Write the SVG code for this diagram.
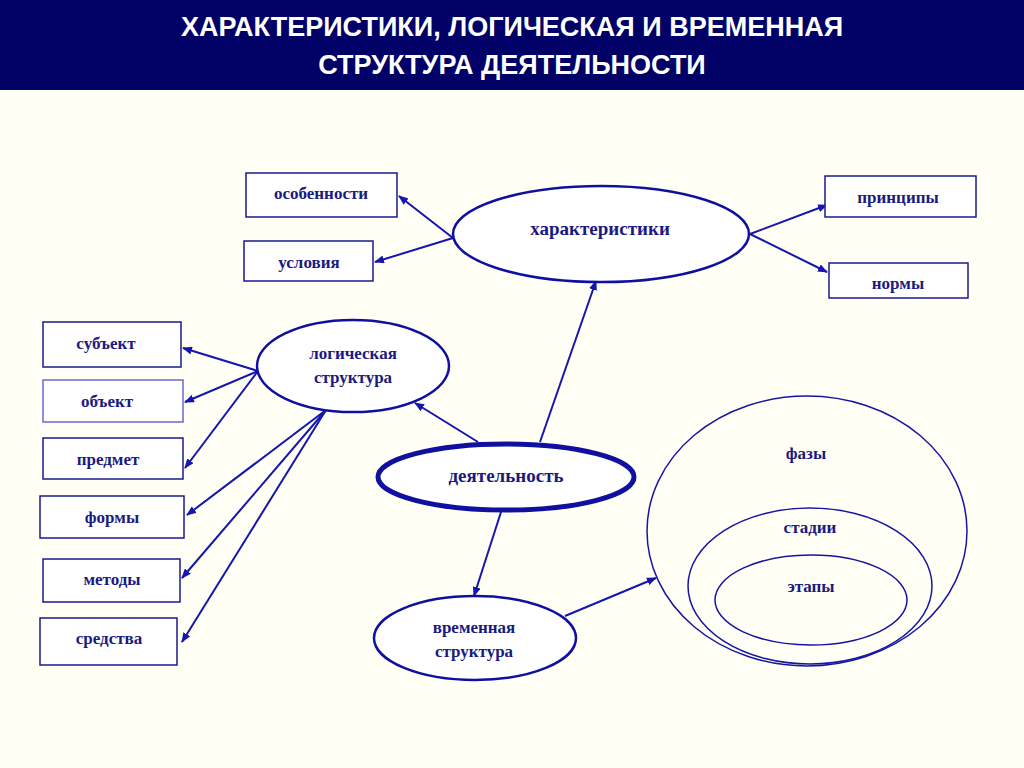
<svg xmlns="http://www.w3.org/2000/svg" width="1024" height="768" viewBox="0 0 1024 768">
<style>
.t{font-family:"Liberation Serif",serif;font-weight:bold;font-size:17px;fill:#1a1a80;text-anchor:middle}
.big{font-size:19px}
.h{font-family:"Liberation Sans",sans-serif;font-weight:bold;font-size:27px;fill:#fff;text-anchor:middle}
.b{fill:#fff;stroke:#1a1a90;stroke-width:1.5}
.e{fill:#fff;stroke:#1010a0;stroke-width:2.5}
.c{fill:none;stroke:#1515a5;stroke-width:1.5}
#conn line{stroke:#1515b0;stroke-width:2;marker-end:url(#a)}
</style>
<defs><marker id="a" markerWidth="10" markerHeight="8" refX="9" refY="4" orient="auto" markerUnits="userSpaceOnUse"><path d="M0,0 L10,4 L0,8 z" fill="#1515b0"/></marker></defs>
<rect width="1024" height="768" fill="#fffff5"/>
<rect width="1024" height="90" fill="#000066"/>
<text class="h" x="512" y="36">ХАРАКТЕРИСТИКИ, ЛОГИЧЕСКАЯ И ВРЕМЕННАЯ</text>
<text class="h" x="512" y="74">СТРУКТУРА ДЕЯТЕЛЬНОСТИ</text>
<g id="phases"><ellipse class="c" cx="807" cy="531" rx="160" ry="135"/><ellipse class="c" cx="810" cy="586" rx="122" ry="78"/><ellipse class="c" cx="811" cy="600" rx="96" ry="45"/>
<text class="t" x="806" y="459">фазы</text><text class="t" x="810" y="533">стадии</text><text class="t" x="811" y="592">этапы</text></g>
<g id="conn">
<line x1="453" y1="238" x2="399" y2="196"/><line x1="453" y1="238" x2="375" y2="262"/>
<line x1="750" y1="234" x2="827" y2="205"/><line x1="750" y1="234" x2="827" y2="272"/>
<line x1="258" y1="371" x2="183" y2="348"/><line x1="258" y1="371" x2="185" y2="402"/><line x1="258" y1="371" x2="185" y2="468"/>
<line x1="326" y1="410" x2="187" y2="515"/><line x1="326" y1="410" x2="182" y2="578"/><line x1="326" y1="410" x2="182" y2="642"/>
<line x1="540" y1="442" x2="596" y2="281"/><line x1="478" y1="442" x2="415" y2="403"/><line x1="501" y1="512" x2="474" y2="596"/><line x1="565" y1="616" x2="656" y2="578"/>
</g>
<g id="n1"><rect class="b" x="246" y="173" width="151" height="44"/><text class="t" x="321" y="199">особенности</text></g>
<g id="n2"><rect class="b" x="244" y="241" width="129" height="40"/><text class="t" x="309" y="268">условия</text></g>
<g id="n3"><rect class="b" x="825" y="176" width="151" height="41"/><text class="t" x="898" y="203">принципы</text></g>
<g id="n4"><rect class="b" x="829" y="263" width="139" height="35"/><text class="t" x="898" y="289">нормы</text></g>
<g id="n5"><rect class="b" x="43" y="322" width="138" height="45"/><text class="t" x="106" y="349">субъект</text></g>
<g id="n6"><rect class="b" x="43" y="380" width="140" height="42" style="stroke:#6a6ad0"/><text class="t" x="107" y="407">объект</text></g>
<g id="n7"><rect class="b" x="43" y="438" width="140" height="41"/><text class="t" x="108" y="465">предмет</text></g>
<g id="n8"><rect class="b" x="40" y="496" width="144" height="42"/><text class="t" x="112" y="523">формы</text></g>
<g id="n9"><rect class="b" x="43" y="559" width="137" height="43"/><text class="t" x="112" y="585">методы</text></g>
<g id="n10"><rect class="b" x="40" y="618" width="137" height="47"/><text class="t" x="109" y="644">средства</text></g>
<g id="char"><ellipse class="e" cx="601" cy="234" rx="148" ry="48"/><text class="t big" x="600" y="235">характеристики</text></g>
<g id="log"><ellipse class="e" cx="353" cy="366" rx="96" ry="46"/><text class="t" x="353" y="359">логическая</text><text class="t" x="353" y="383">структура</text></g>
<g id="act"><ellipse class="e" cx="506" cy="477" rx="128" ry="33" style="stroke-width:5"/><text class="t big" x="506" y="482">деятельность</text></g>
<g id="time"><ellipse class="e" cx="475" cy="638" rx="101" ry="42"/><text class="t" x="474" y="633">временная</text><text class="t" x="474" y="657">структура</text></g>
</svg>
